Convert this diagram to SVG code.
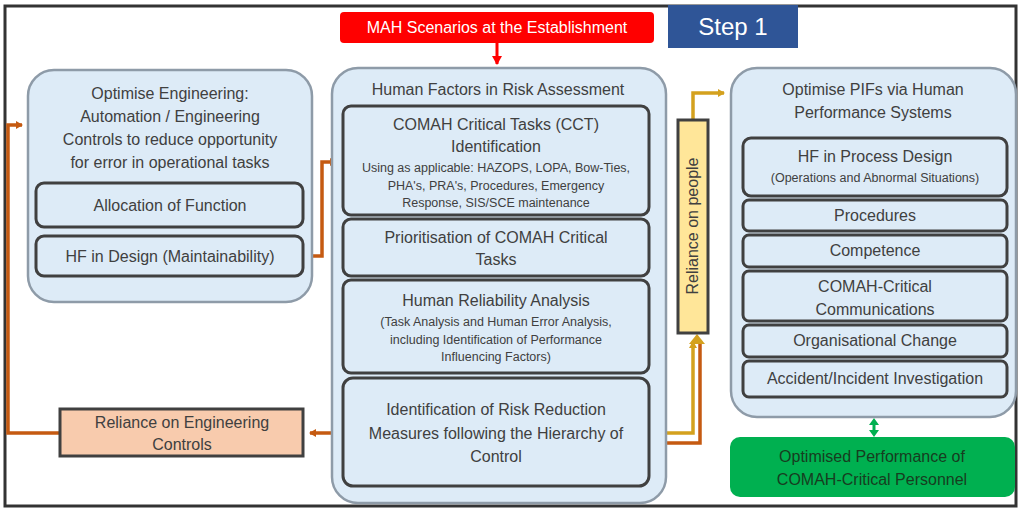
<svg xmlns="http://www.w3.org/2000/svg" width="1024" height="516" viewBox="0 0 1024 516">
<defs>
<style>
.panel{fill:#DDEBF7;stroke:#8E9BA8;stroke-width:2.5}
.box{fill:#DDEBF7;stroke:#404040;stroke-width:3}
.t{font-family:"Liberation Sans",Arial,sans-serif;font-size:16px;fill:#404040;text-anchor:middle}
.s{font-family:"Liberation Sans",Arial,sans-serif;font-size:12.5px;fill:#404040;text-anchor:middle}
.w{font-family:"Liberation Sans",Arial,sans-serif;fill:#ffffff;text-anchor:middle}
.or{fill:none;stroke:#C55A11;stroke-width:3.5}
.gd{fill:none;stroke:#D4A11E;stroke-width:3.5}
</style>
<marker id="aO" markerWidth="8" markerHeight="8" refX="6" refY="4" orient="auto" markerUnits="userSpaceOnUse"><path d="M0,0 L7,4 L0,8 z" fill="#C55A11"/></marker>
<marker id="aG" markerWidth="8" markerHeight="8" refX="6" refY="4" orient="auto" markerUnits="userSpaceOnUse"><path d="M0,0 L7,4 L0,8 z" fill="#D4A11E"/></marker>
<marker id="aR" markerWidth="10" markerHeight="10" refX="8" refY="5" orient="auto" markerUnits="userSpaceOnUse"><path d="M0,0 L9,5 L0,10 z" fill="#FF0000"/></marker>
</defs>
<rect x="0" y="0" width="1024" height="516" fill="#ffffff"/>
<rect x="5" y="6" width="1011" height="500" fill="none" stroke="#333333" stroke-width="3"/>

<g id="connectors">
<path class="or" d="M303,256 H322 V162 H336" marker-end="url(#aO)"/>
<path class="or" d="M343,433 H310" marker-end="url(#aO)"/>
<path class="or" d="M60,433 H8 V125 H22" marker-end="url(#aO)"/>
<path class="or" d="M649,443 H700 V344"/>
<path class="gd" d="M649,433 H693 V342" marker-end="url(#aG)"/>
<path d="M689,344 L697,334 L705,344 z" fill="#D4A11E"/>
<path class="gd" d="M693,120 V93 H724" marker-end="url(#aG)"/>
<path d="M497,43 V64" fill="none" stroke="#FF0000" stroke-width="3" marker-end="url(#aR)"/>
<path d="M874,424 V431" fill="none" stroke="#00B050" stroke-width="3"/>
<path d="M869,425 L874,418 L879,425 z M869,430 L874,437 L879,430 z" fill="#00B050"/>
</g>

<g id="mah">
<rect x="340" y="12" width="314" height="31" rx="4" fill="#FF0000"/>
<text class="w" x="497" y="33" font-size="16">MAH Scenarios at the Establishment</text>
</g>
<g id="step1">
<rect x="668" y="5" width="130" height="43" fill="#2F5597"/>
<text class="w" x="733" y="35" font-size="24">Step 1</text>
</g>

<g id="left-panel">
<rect class="panel" x="28" y="70" width="284" height="232" rx="26"/>
<text class="t" x="170" y="99">Optimise Engineering:</text>
<text class="t" x="170" y="122">Automation / Engineering</text>
<text class="t" x="170" y="145">Controls to reduce opportunity</text>
<text class="t" x="170" y="168">for error in operational tasks</text>
</g>
<g id="allocation">
<rect class="box" x="36" y="183" width="267" height="44" rx="8"/>
<text class="t" x="170" y="211">Allocation of Function</text>
</g>
<g id="hf-design">
<rect class="box" x="36" y="236" width="267" height="40" rx="8"/>
<text class="t" x="170" y="262">HF in Design (Maintainability)</text>
</g>

<g id="middle-panel">
<rect class="panel" x="332" y="68" width="334" height="435" rx="26"/>
<text class="t" x="498" y="95" font-size="15">Human Factors in Risk Assessment</text>
</g>
<g id="cct">
<rect class="box" x="343" y="106" width="306" height="109" rx="8"/>
<text class="t" x="496" y="130">COMAH Critical Tasks (CCT)</text>
<text class="t" x="496" y="152">Identification</text>
<text class="s" x="496" y="172">Using as applicable: HAZOPS, LOPA, Bow-Ties,</text>
<text class="s" x="496" y="190">PHA's, PRA's, Procedures, Emergency</text>
<text class="s" x="496" y="207">Response, SIS/SCE maintenance</text>
</g>
<g id="prioritisation">
<rect class="box" x="343" y="219" width="306" height="57" rx="8"/>
<text class="t" x="496" y="243">Prioritisation of COMAH Critical</text>
<text class="t" x="496" y="265">Tasks</text>
</g>
<g id="hra">
<rect class="box" x="343" y="280" width="306" height="93" rx="8"/>
<text class="t" x="496" y="306">Human Reliability Analysis</text>
<text class="s" x="496" y="326">(Task Analysis and Human Error Analysis,</text>
<text class="s" x="496" y="344">including Identification of Performance</text>
<text class="s" x="496" y="361">Influencing Factors)</text>
</g>
<g id="risk-reduction">
<rect class="box" x="343" y="378" width="306" height="108" rx="10"/>
<text class="t" x="496" y="415">Identification of Risk Reduction</text>
<text class="t" x="496" y="439">Measures following the Hierarchy of</text>
<text class="t" x="496" y="462">Control</text>
</g>

<g id="reliance-people">
<rect x="678" y="120" width="30" height="213" fill="#FFE699" stroke="#404040" stroke-width="3"/>
<text class="t" font-size="15" transform="translate(698,226) rotate(-90)">Reliance on people</text>
</g>

<g id="right-panel">
<rect class="panel" x="731" y="68" width="285" height="349" rx="26"/>
<text class="t" x="873" y="95">Optimise PIFs via Human</text>
<text class="t" x="873" y="118">Performance Systems</text>
</g>
<g id="hf-process">
<rect class="box" x="743" y="138" width="264" height="58" rx="8"/>
<text class="t" x="875" y="162">HF in Process Design</text>
<text class="s" x="875" y="182" font-size="13.5">(Operations and Abnormal Situations)</text>
</g>
<g id="procedures">
<rect class="box" x="743" y="200" width="264" height="31" rx="6"/>
<text class="t" x="875" y="221">Procedures</text>
</g>
<g id="competence">
<rect class="box" x="743" y="235" width="264" height="32" rx="6"/>
<text class="t" x="875" y="256">Competence</text>
</g>
<g id="communications">
<rect class="box" x="743" y="271" width="264" height="50" rx="6"/>
<text class="t" x="875" y="292">COMAH-Critical</text>
<text class="t" x="875" y="315">Communications</text>
</g>
<g id="org-change">
<rect class="box" x="743" y="325" width="264" height="32" rx="6"/>
<text class="t" x="875" y="346">Organisational Change</text>
</g>
<g id="accident">
<rect class="box" x="743" y="361" width="264" height="36" rx="6"/>
<text class="t" x="875" y="384">Accident/Incident Investigation</text>
</g>

<g id="optimised">
<rect x="730" y="437" width="285" height="60" rx="10" fill="#00B050"/>
<text class="t" x="872" y="462" style="fill:#173d20">Optimised Performance of</text>
<text class="t" x="872" y="485" style="fill:#173d20">COMAH-Critical Personnel</text>
</g>

<g id="reliance-eng">
<rect x="60" y="409" width="243" height="47" fill="#F8CBAD" stroke="#404040" stroke-width="3"/>
<text class="t" x="182" y="428">Reliance on Engineering</text>
<text class="t" x="182" y="450">Controls</text>
</g>
</svg>
